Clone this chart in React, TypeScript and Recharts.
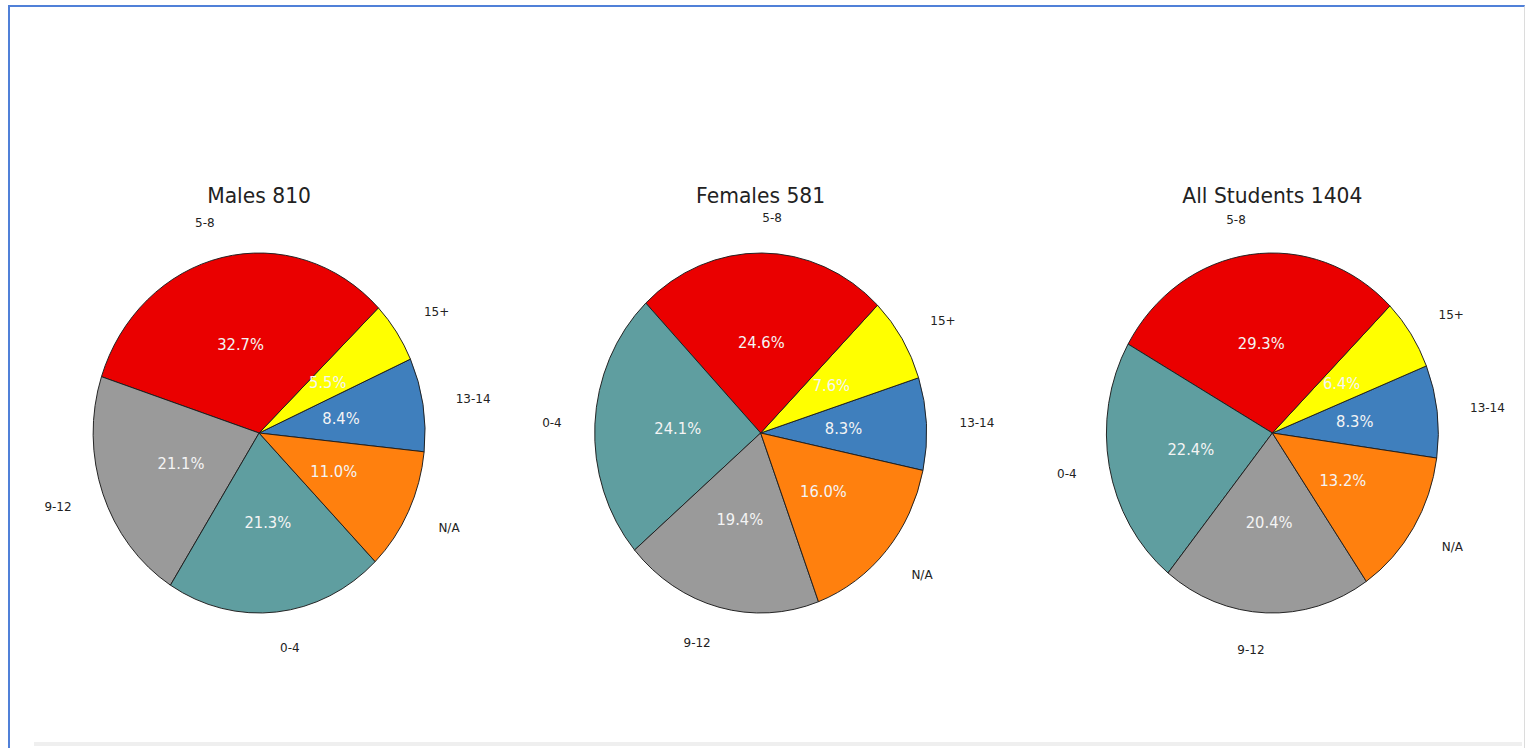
import React from 'react';
import { PieChart, Pie, Cell } from 'recharts';

const titles = ['Males 810', 'Females 581', 'All Students 1404'];

const malesLabels = ['13-14', '15+', '5-8', '9-12', '0-4', 'N/A'];
const malesValues = [8.4, 5.5, 32.7, 21.1, 21.3, 11.0];

const femalesLabels = ['13-14', '15+', '5-8', '0-4', '9-12', 'N/A'];
const femalesValues = [8.3, 7.6, 24.6, 24.1, 19.4, 16.0];

const allLabels = ['13-14', '15+', '5-8', '0-4', '9-12', 'N/A'];
const allValues = [8.3, 6.4, 29.3, 22.4, 20.4, 13.2];

const colorFor: Record<string, string> = {
  '13-14': '#3f7fbd',
  '15+': '#ffff00',
  '5-8': '#ea0000',
  '9-12': '#9a9a9a',
  '0-4': '#5f9ea0',
  'N/A': '#ff800e',
};

const SQUASH = 0.922;
const DESIGN_W = 1655;
const H = 748;
const R = 180;
const CY = 433;
const centersX = [281, 825, 1380];
const startAngles = [-6, -12, -8];

const RAD = Math.PI / 180;

const toRows = (labels: string[], values: number[]) =>
  labels.map((name, i) => ({ name, value: values[i] }));

const pies = [
  toRows(malesLabels, malesValues),
  toRows(femalesLabels, femalesValues),
  toRows(allLabels, allValues),
];

const renderLabel = (props: any) => {
  const { cx, cy, midAngle, outerRadius, percent, name } = props;
  const c = Math.cos(-midAngle * RAD);
  const s = Math.sin(-midAngle * RAD);
  const lr = outerRadius * 1.2;
  const pr = outerRadius * 0.5;
  const lx = cx + lr * c;
  const ly = cy + lr * s;
  const px = cx + pr * c;
  const py = cy + pr * s;
  return (
    <g>
      <text
        x={lx}
        y={ly}
        textAnchor={c >= 0 ? 'start' : 'end'}
        dominantBaseline="central"
        fill="#222"
        fontSize={13}
        fontFamily="DejaVu Sans"
      >
        {name}
      </text>
      <text
        x={px}
        y={py}
        textAnchor="middle"
        dominantBaseline="central"
        fill="#f4f4f4"
        fontSize={16}
        fontFamily="DejaVu Sans"
      >
        {`${(percent * 100).toFixed(1)}%`}
      </text>
    </g>
  );
};

export default function App() {
  return (
    <div
      style={{
        position: 'absolute',
        left: 0,
        top: 0,
        width: 1526,
        height: H,
        overflow: 'hidden',
        background: '#ffffff',
        fontFamily: 'DejaVu Sans',
      }}
    >
      <div
        style={{
          position: 'absolute',
          left: 8,
          top: 5,
          width: 1514,
          height: 800,
          borderTop: '2px solid #5080d8',
          borderLeft: '2px solid #5080d8',
          borderRight: '1px solid #dcdcdc',
        }}
      />
      <div
        style={{
          position: 'absolute',
          left: 34,
          top: 742,
          width: 1488,
          height: 4,
          background: '#efefef',
        }}
      />
      <div
        style={{
          position: 'absolute',
          left: 0,
          top: 0,
          width: DESIGN_W,
          height: H,
          transform: `scaleX(${SQUASH})`,
          transformOrigin: '0 0',
        }}
      >
        {titles.map((t, i) => (
          <div
            key={t}
            style={{
              position: 'absolute',
              left: centersX[i] - 200,
              width: 400,
              top: 184,
              lineHeight: '24px',
              fontSize: 22,
              textAlign: 'center',
              color: '#222',
              fontFamily: 'DejaVu Sans',
            }}
          >
            {t}
          </div>
        ))}
        <PieChart
          width={DESIGN_W}
          height={H}
          margin={{ top: 0, right: 0, bottom: 0, left: 0 }}
          style={{ position: 'absolute', left: 0, top: 0 }}
        >
          {pies.map((rows, i) => (
            <Pie
              key={titles[i]}
              data={rows}
              dataKey="value"
              nameKey="name"
              cx={centersX[i]}
              cy={CY}
              outerRadius={R}
              innerRadius={0}
              startAngle={startAngles[i]}
              endAngle={startAngles[i] + 360}
              stroke="#1e1e1e"
              strokeWidth={1}
              label={renderLabel}
              labelLine={false}
              isAnimationActive={false}
            >
              {rows.map((r) => (
                <Cell key={r.name} fill={colorFor[r.name]} />
              ))}
            </Pie>
          ))}
        </PieChart>
      </div>
    </div>
  );
}
